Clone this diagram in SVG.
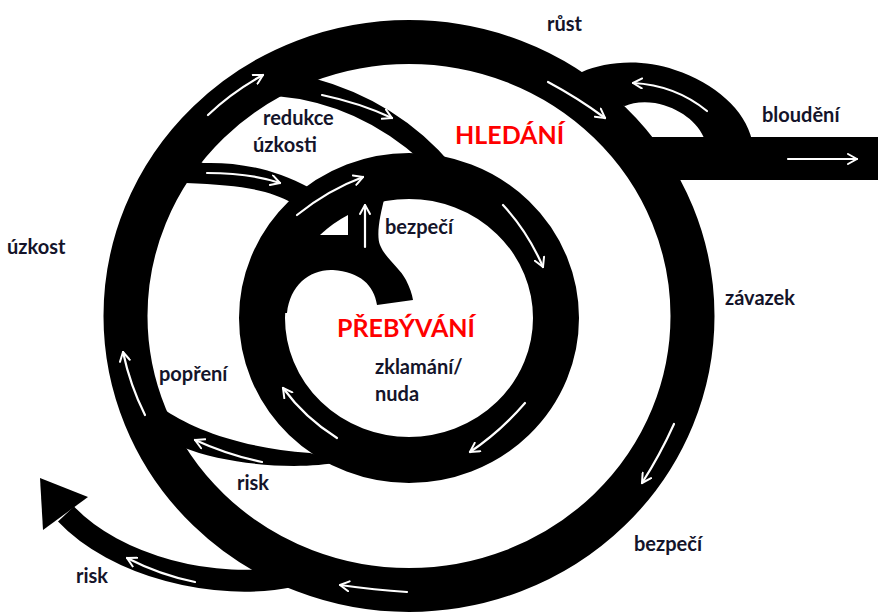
<svg xmlns="http://www.w3.org/2000/svg" width="878" height="612" viewBox="0 0 878 612">
  <style>
    .band { fill: none; stroke: #000; }
    .blk { fill: #000; stroke: none; }
    .flow { fill: none; stroke: #fff; stroke-width: 2.2; stroke-linecap: round; marker-end: url(#ah); }
    .lbl { font-family: Lato, "Open Sans", "Liberation Sans", sans-serif; font-weight: bold; font-size: 20px; fill: #14142a; }
    .big { font-family: Lato, "Open Sans", "Liberation Sans", sans-serif; font-weight: bold; font-size: 25px; fill: #ff0000; }
  </style>
  <defs>
    <marker id="ah" viewBox="0 0 12 12" refX="10" refY="6" markerWidth="12" markerHeight="12" markerUnits="userSpaceOnUse" orient="auto">
      <path d="M1,1 L10,6 L1,11" fill="none" stroke="#fff" stroke-width="2" stroke-linecap="round" stroke-linejoin="round"/>
    </marker>
  </defs>
  <rect width="878" height="612" fill="#fff"/>

  <g id="outer-ring">
    <ellipse class="band" cx="409" cy="316" rx="283.5" ry="274" stroke-width="44"/>
  </g>
  <g id="inner-ring">
    <ellipse class="band" cx="409" cy="318" rx="147" ry="142" stroke-width="46"/>
    <path id="hook" class="blk" d="M330,200 L350,198 L385,196 C380,215 376,235 380,245 C385,258 400,268 406,280 C410,288 412,294 413,300 L377,305 C374,285 360,272 333,270 C310,269 290,285 287,313 L280,313 L280,260 Z"/>
    <path fill="#fff" d="M320,235 A123.5 120 0 0 1 348,215 L348,235 Z"/>
  </g>
  <g id="branch-reduction">
    <path class="blk" d="M290,70 L313,78 Q398,101 452,165 L423,162 Q358,103 276,96 Z"/>
  </g>
  <g id="branch-left-upper">
    <path class="blk" d="M195,160 L203,163 C235,162 270,167 310,188 L292,203 C270,190 240,185 186,183 Z"/>
  </g>
  <g id="branch-risk-inner">
    <path class="blk" d="M155,405 L162,408 C190,428 240,448 310,453 L340,462 C300,470 230,466 182,447 Z"/>
  </g>
  <g id="branch-risk-outer">
    <path class="band" d="M292,576 C215,592 115,566 66,514" stroke-width="22"/>
    <polygon class="blk" points="40,478 88,497 43,530"/>
  </g>
  <g id="branch-wandering">
    <path class="blk" d="M575,75 L582,72 C605,62 640,58 675,70 C715,83 745,110 752,140 L705,140 C698,122 680,108 655,103 C642,101 632,103 625,106 L590,100 Z"/>
    <rect class="blk" x="630" y="137" width="248" height="43"/>
  </g>

  <g id="connectors">
    <path class="flow" d="M208,115 Q232,92 263,75"/>
    <path class="flow" d="M548,82 Q578,98 605,118"/>
    <path class="flow" d="M674,424 Q660,455 642,483"/>
    <path class="flow" d="M407,592 Q375,590 340,585"/>
    <path class="flow" d="M145,415 Q130,385 123,352"/>
    <path class="flow" d="M322,95 Q360,103 392,118"/>
    <path class="flow" d="M207,173 Q250,173 280,183"/>
    <path class="flow" d="M365,247 L365,205"/>
    <path class="flow" d="M297,215 Q328,190 363,177"/>
    <path class="flow" d="M503,205 Q528,232 543,267"/>
    <path class="flow" d="M525,403 Q500,432 470,452"/>
    <path class="flow" d="M337,438 Q305,418 283,388"/>
    <path class="flow" d="M262,462 Q228,455 195,440"/>
    <path class="flow" d="M195,582 Q160,575 127,558"/>
    <path class="flow" d="M707,111 Q675,85 633,83"/>
    <path class="flow" d="M788,159 L857,159"/>
  </g>

  <g id="labels">
    <text class="lbl" x="7" y="254">úzkost</text>
    <text class="lbl" x="263" y="125">redukce</text>
    <text class="lbl" x="253" y="152">úzkosti</text>
    <text class="lbl" x="547" y="31">růst</text>
    <text class="lbl" x="762" y="122">bloudění</text>
    <text class="big" x="455" y="144">HLEDÁNÍ</text>
    <text class="lbl" x="385" y="234">bezpečí</text>
    <text class="big" x="337" y="337">PŘEBÝVÁNÍ</text>
    <text class="lbl" x="375" y="374">zklamání/</text>
    <text class="lbl" x="375" y="401">nuda</text>
    <text class="lbl" x="725" y="305">závazek</text>
    <text class="lbl" x="159" y="381">popření</text>
    <text class="lbl" x="237" y="490">risk</text>
    <text class="lbl" x="76" y="583">risk</text>
    <text class="lbl" x="634" y="551">bezpečí</text>
  </g>
</svg>
